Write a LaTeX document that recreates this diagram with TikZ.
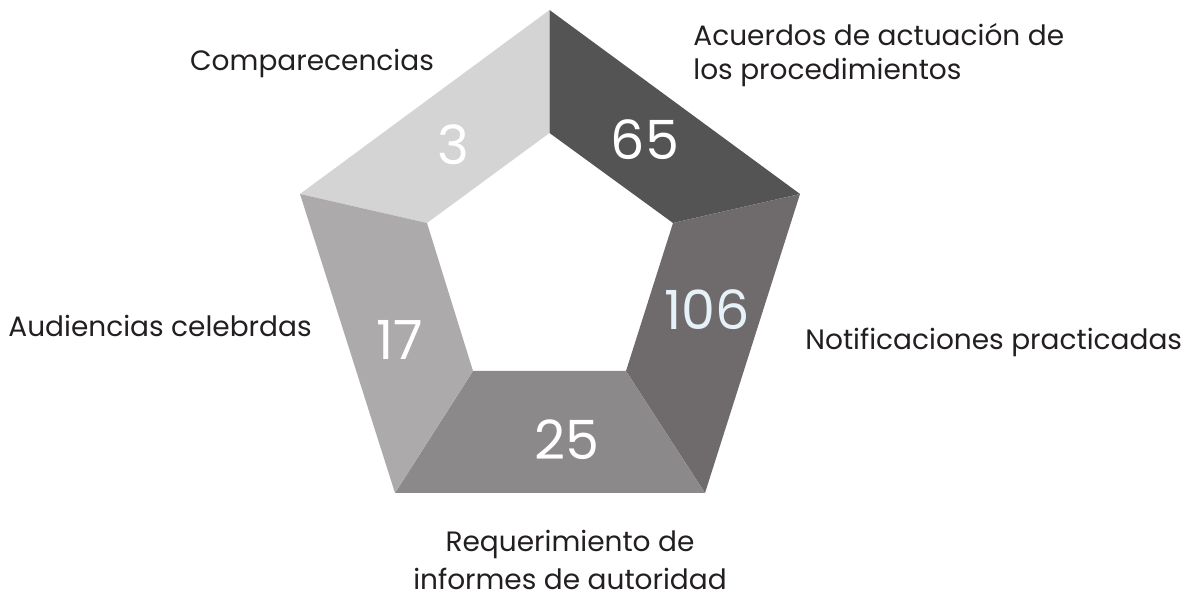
\documentclass[tikz,border=0pt]{standalone}
\usepackage{fontspec}
\setmainfont{Poppins}
\begin{document}
\begin{tikzpicture}[x=0.5pt,y=-0.5pt,
    lbl/.style={font=\fontsize{14}{17}\selectfont, text=txt, inner sep=0pt},
    num/.style={font=\fontsize{27}{30}\selectfont, text=white, inner sep=0pt}]
    \definecolor{cl1}{HTML}{D5D4D5}
    \definecolor{cl2}{HTML}{545454}
    \definecolor{cl3}{HTML}{6F6B6C}
    \definecolor{cl4}{HTML}{8C898A}
    \definecolor{cl5}{HTML}{ADAAAB}
    \definecolor{txt}{HTML}{231F20}
    \definecolor{pale}{HTML}{E6F2F8}
    \useasboundingbox (0,0) rectangle (1197,597);
    % outer and inner corners
    \coordinate (o1) at (549.5, 10);
    \coordinate (o2) at (800,  194);
    \coordinate (o3) at (705,  493);
    \coordinate (o4) at (395,  493);
    \coordinate (o5) at (300,  194);
    \coordinate (i1) at (549.5,133);
    \coordinate (i2) at (673,  223);
    \coordinate (i3) at (626,  371);
    \coordinate (i4) at (473,  371);
    \coordinate (i5) at (427,  223);
    \fill[cl1] (o5) -- (o1) -- (i1) -- (i5) -- cycle;
    \fill[cl2] (o1) -- (o2) -- (i2) -- (i1) -- cycle;
    \fill[cl3] (o2) -- (o3) -- (i3) -- (i2) -- cycle;
    \fill[cl4] (o3) -- (o4) -- (i4) -- (i3) -- cycle;
    \fill[cl5] (o4) -- (o5) -- (i5) -- (i4) -- cycle;
    % values
    \node[num]             (v1) at (453,145) {3};
    \node[num]             (v2) at (645,140) {65};
    \node[num, text=pale]  (v3) at (707,310) {106};
    \node[num]             (v4) at (567,440) {25};
    \node[num]             (v5) at (400,340) {17};
    % labels (base = last line)
    \node[lbl, anchor=base]                         (l1) at (312, 70.7) {Comparecencias};
    \node[lbl, align=left, anchor=base west]        (l2) at (693, 80)   {Acuerdos de actuación de\\los procedimientos};
    \node[lbl, anchor=base west]                    (l3) at (805, 350)  {Notificaciones practicadas};
    \node[lbl, align=center, anchor=base,
          font=\fontsize{14}{19}\selectfont]        (l4) at (570, 589)  {Requerimiento de\\informes de autoridad};
    \node[lbl, anchor=base west]                    (l5) at (8,   337)  {Audiencias celebrdas};
\end{tikzpicture}
\end{document}
